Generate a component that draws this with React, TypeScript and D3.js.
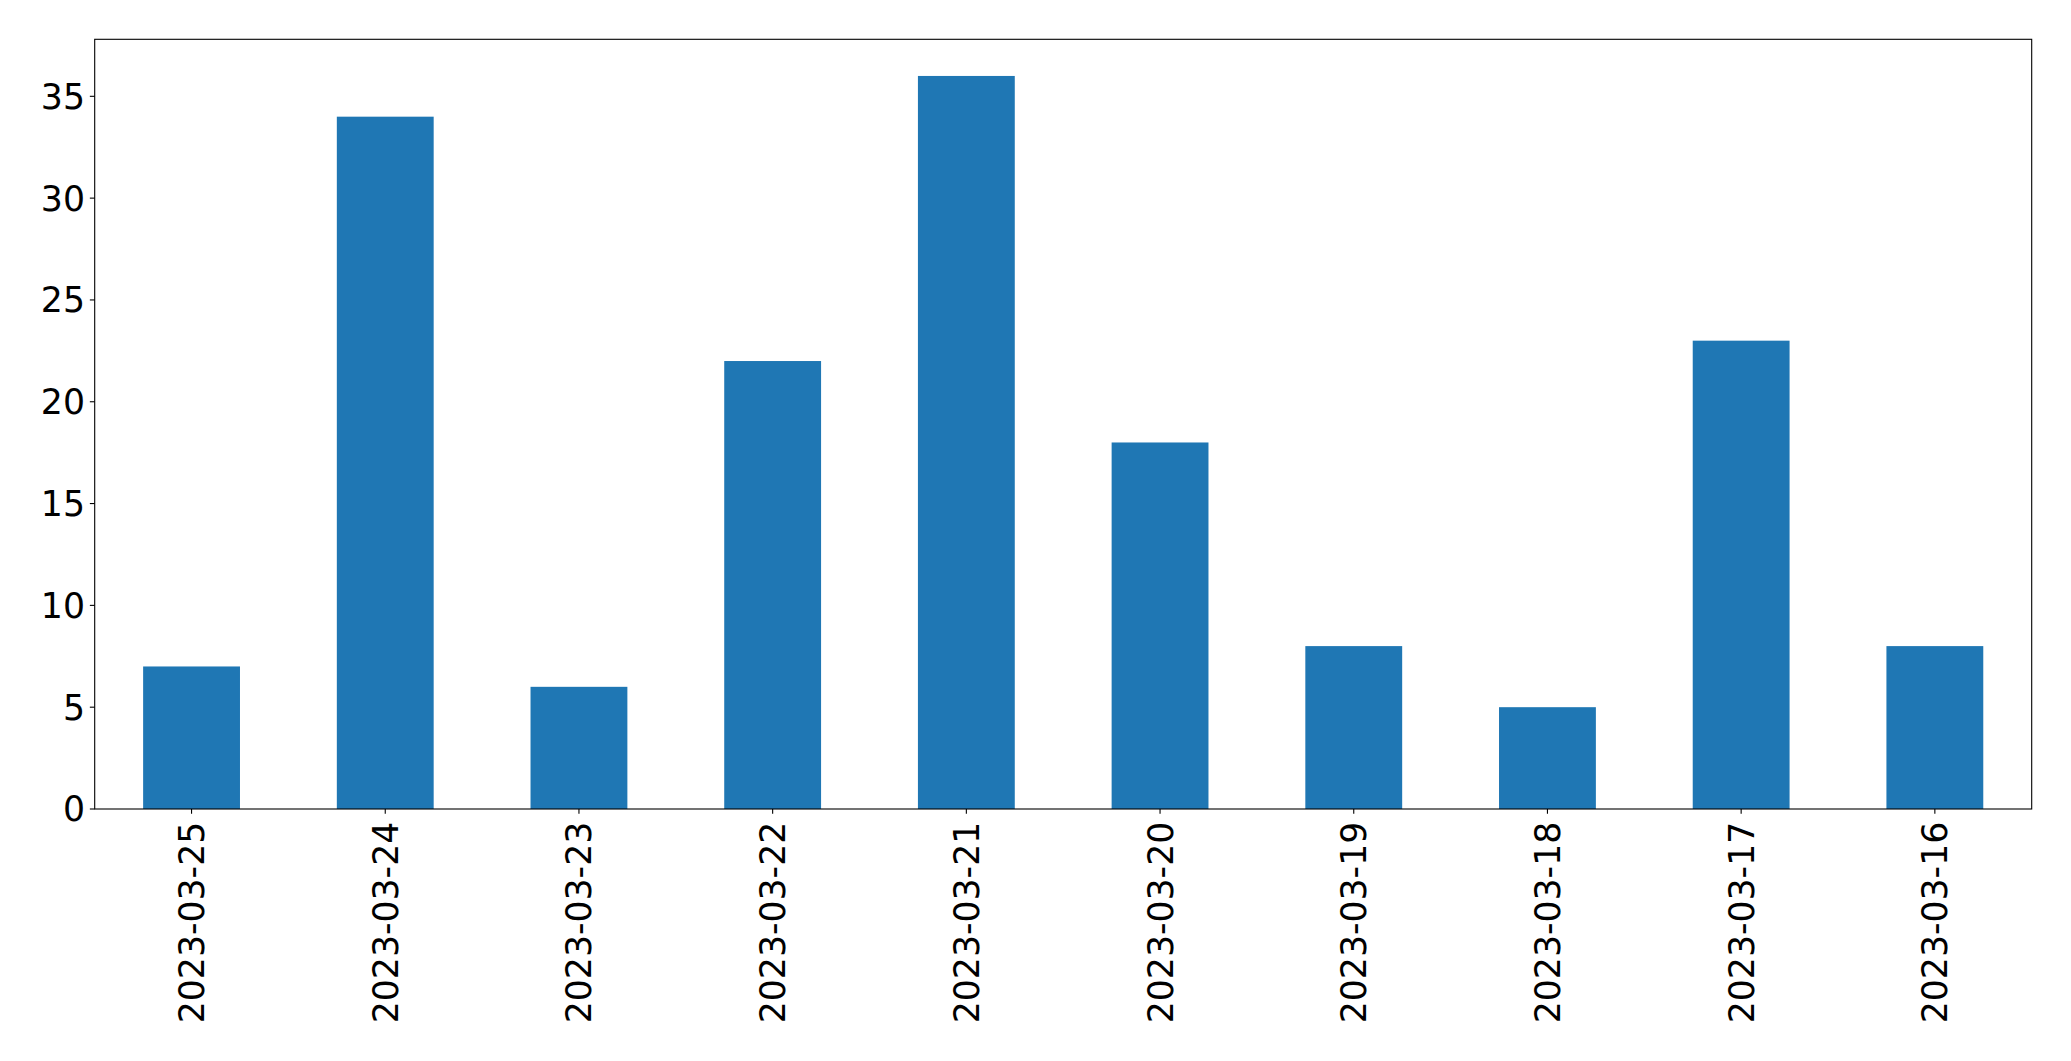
import React from "react";
import * as d3 from "d3";

const categories = ["2023-03-25","2023-03-24","2023-03-23","2023-03-22","2023-03-21","2023-03-20","2023-03-19","2023-03-18","2023-03-17","2023-03-16"];
const values = [7, 34, 6, 22, 36, 18, 8, 5, 23, 8];
const yTicks = [0, 5, 10, 15, 20, 25, 30, 35];

const W = 2071, H = 1061;
const left = 94.7, right = 2031.7, top = 39.3, bottom = 809;
const fontSize = 34.7;
const font = "DejaVu Sans";

export default function App() {
  const x = d3.scaleLinear().domain([-0.5, categories.length - 0.5]).range([left, right]);
  const yMax = d3.max(values)! * 1.05;
  const y = d3.scaleLinear().domain([0, yMax]).range([bottom, top]);
  const tick = 4.86, pad = 4.86;
  return (
    <svg width={W} height={H} style={{ position: "absolute", left: 0, top: 0, background: "#fff" }}>
      <rect x={0} y={0} width={W} height={H} fill="#fff" />
      {values.map((v, i) => (
        <rect key={i} x={x(i - 0.25)} y={y(v)} width={x(i + 0.25) - x(i - 0.25)} height={y(0) - y(v)} fill="#1f77b4" />
      ))}
      <rect x={left} y={top} width={right - left} height={bottom - top} fill="none" stroke="#000" strokeWidth={1.1} />
      {yTicks.map((t) => (
        <g key={t}>
          <line x1={left - tick} x2={left} y1={y(t)} y2={y(t)} stroke="#000" strokeWidth={1.1} />
          <text x={left - tick - pad} y={y(t)} dy="0.36em" textAnchor="end" fontFamily={font} fontSize={fontSize} fill="#000">{t}</text>
        </g>
      ))}
      {categories.map((c, i) => (
        <g key={c}>
          <line x1={x(i)} x2={x(i)} y1={bottom} y2={bottom + tick} stroke="#000" strokeWidth={1.1} />
          <text transform={`translate(${x(i)},${bottom + tick + pad + 3}) rotate(-90)`} dy="0.36em" textAnchor="end" fontFamily={font} fontSize={fontSize} fill="#000">{c}</text>
        </g>
      ))}
    </svg>
  );
}
